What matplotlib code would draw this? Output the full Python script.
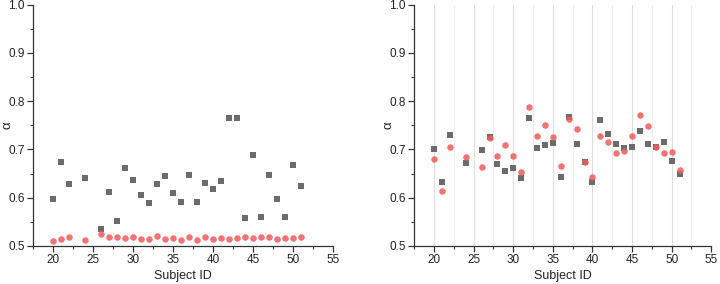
import matplotlib.pyplot as plt
from matplotlib.ticker import MultipleLocator

plt.rcParams['font.family'] = ['Liberation Sans', 'DejaVu Sans']

# subject ids (23 and 25 are missing)
ids = [20, 21, 22, 24, 26, 27, 28, 29, 30, 31, 32, 33, 34, 35, 36, 37, 38,
       39, 40, 41, 42, 43, 44, 45, 46, 47, 48, 49, 50, 51]

# left panel
left_gray = [0.597, 0.673, 0.628, 0.641, 0.536, 0.612, 0.551, 0.661, 0.637, 0.606,
             0.590, 0.628, 0.644, 0.610, 0.592, 0.646, 0.592, 0.631, 0.617, 0.634,
             0.766, 0.765, 0.557, 0.688, 0.559, 0.646, 0.597, 0.559, 0.668, 0.624]
left_red = [0.511, 0.514, 0.518, 0.513, 0.524, 0.519, 0.518, 0.517, 0.519, 0.515,
            0.514, 0.520, 0.514, 0.517, 0.513, 0.518, 0.513, 0.519, 0.514, 0.516,
            0.514, 0.517, 0.519, 0.516, 0.519, 0.518, 0.514, 0.517, 0.516, 0.518]

# right panel
right_gray = [0.700, 0.633, 0.729, 0.671, 0.698, 0.725, 0.670, 0.656, 0.662, 0.640,
              0.765, 0.702, 0.709, 0.713, 0.642, 0.768, 0.711, 0.673, 0.632, 0.760,
              0.733, 0.712, 0.703, 0.704, 0.739, 0.711, 0.706, 0.716, 0.675, 0.650]
right_red = [0.680, 0.613, 0.705, 0.685, 0.663, 0.724, 0.686, 0.710, 0.686, 0.653,
             0.787, 0.727, 0.751, 0.725, 0.666, 0.763, 0.742, 0.673, 0.643, 0.727,
             0.716, 0.692, 0.697, 0.728, 0.771, 0.749, 0.706, 0.692, 0.694, 0.658]

gray = '#6b6b6b'
red = '#f25c5c'

fig = plt.figure(figsize=(7.2, 2.84), dpi=100)
ax1 = fig.add_axes([0.0458, 0.134, 0.4167, 0.8496])
ax2 = fig.add_axes([0.5754, 0.134, 0.4125, 0.8496])

for ax, g, r in [(ax1, left_gray, left_red), (ax2, right_gray, right_red)]:
    ax.scatter(ids, g, marker='s', s=17, color=gray, linewidths=0, zorder=3)
    ax.scatter(ids, r, marker='o', s=22, color=red, alpha=0.85, linewidths=0, zorder=4)
    ax.set_xlim(17.5, 55)
    ax.set_ylim(0.5, 1.0)
    ax.xaxis.set_major_locator(MultipleLocator(5))
    ax.xaxis.set_minor_locator(MultipleLocator(2.5))
    ax.yaxis.set_major_locator(MultipleLocator(0.1))
    ax.yaxis.set_minor_locator(MultipleLocator(0.05))
    ax.spines['top'].set_visible(False)
    ax.spines['right'].set_visible(False)
    for s in ['left', 'bottom']:
        ax.spines[s].set_color('#333333')
        ax.spines[s].set_linewidth(0.9)
    ax.tick_params(which='major', length=4, width=0.9, color='#333333',
                   labelsize=8.5, pad=2, labelcolor='#222222')
    ax.tick_params(which='minor', length=2.5, width=0.8, color='#333333')
    ax.set_xlabel('Subject ID', fontsize=9, labelpad=3, color='#222222')
    ax.set_ylabel('α', fontsize=9.5, color='#222222')
    # label sits just inside the figure edge, as in the original
    ax.yaxis.set_label_coords(-0.066, 0.5)

# vertical guide lines on the right panel
ax2.grid(axis='x', which='major', color='#dddddd', linewidth=0.8, zorder=0)
ax2.grid(axis='x', which='minor', color='#efefef', linewidth=0.8, zorder=0)
ax2.set_axisbelow(True)

fig.savefig('out.png', dpi=100)
